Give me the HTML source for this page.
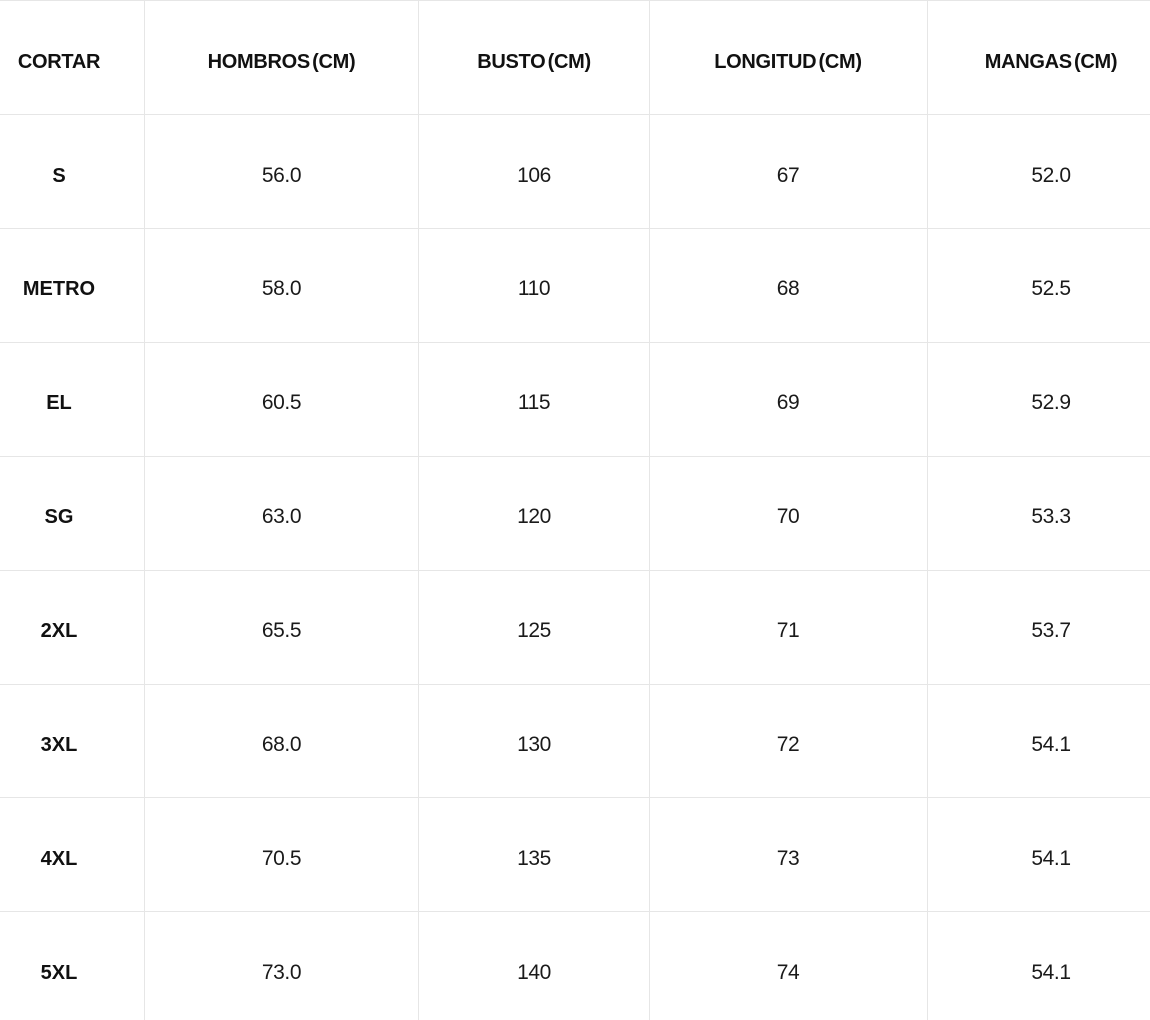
<!DOCTYPE html>
<html>
<head>
<meta charset="utf-8">
<style>
  html, body { margin:0; padding:0; background:#fff; }
  body { width:1150px; height:1020px; position:relative; overflow:hidden;
         font-family:"Liberation Sans", sans-serif; }
  .h { position:absolute; left:0; width:1150px; height:1px; background:#e6e6e6; }
  .v { position:absolute; top:0; width:1px; height:1020px; background:#e6e6e6; }
  .t { position:absolute; height:40px; line-height:40px; text-align:center; white-space:nowrap; }
  .hd { font-weight:bold; font-size:20px; color:#111; letter-spacing:-0.3px; word-spacing:-3px; }
  .b { font-weight:bold; font-size:20px; color:#111; }
  .d { font-size:21px; color:#1a1a1a; letter-spacing:-0.4px; }
  .c1 { left:0; width:118px; }
  .c2 { left:144px; width:275px; }
  .c3 { left:418px; width:232px; }
  .c4 { left:649px; width:278px; }
  .c5 { left:927px; width:248px; }
</style>
</head>
<body>
  <div class="h" style="top:0"></div>
  <div class="h" style="top:114px"></div>
  <div class="h" style="top:228px"></div>
  <div class="h" style="top:342px"></div>
  <div class="h" style="top:456px"></div>
  <div class="h" style="top:570px"></div>
  <div class="h" style="top:684px"></div>
  <div class="h" style="top:797px"></div>
  <div class="h" style="top:911px"></div>

  <div class="v" style="left:144px"></div>
  <div class="v" style="left:418px"></div>
  <div class="v" style="left:649px"></div>
  <div class="v" style="left:927px"></div>

  <!-- header -->
  <div class="t hd c1" style="top:42px">CORTAR</div>
  <div class="t hd c2" style="top:42px">HOMBROS (CM)</div>
  <div class="t hd c3" style="top:42px">BUSTO (CM)</div>
  <div class="t hd c4" style="top:42px">LONGITUD (CM)</div>
  <div class="t hd c5" style="top:42px">MANGAS (CM)</div>

  <!-- rows -->
  <div class="t b c1" style="top:156px">S</div>
  <div class="t d c2" style="top:156px">56.0</div>
  <div class="t d c3" style="top:156px">106</div>
  <div class="t d c4" style="top:156px">67</div>
  <div class="t d c5" style="top:156px">52.0</div>

  <div class="t b c1" style="top:269px">METRO</div>
  <div class="t d c2" style="top:269px">58.0</div>
  <div class="t d c3" style="top:269px">110</div>
  <div class="t d c4" style="top:269px">68</div>
  <div class="t d c5" style="top:269px">52.5</div>

  <div class="t b c1" style="top:383px">EL</div>
  <div class="t d c2" style="top:383px">60.5</div>
  <div class="t d c3" style="top:383px">115</div>
  <div class="t d c4" style="top:383px">69</div>
  <div class="t d c5" style="top:383px">52.9</div>

  <div class="t b c1" style="top:497px">SG</div>
  <div class="t d c2" style="top:497px">63.0</div>
  <div class="t d c3" style="top:497px">120</div>
  <div class="t d c4" style="top:497px">70</div>
  <div class="t d c5" style="top:497px">53.3</div>

  <div class="t b c1" style="top:611px">2XL</div>
  <div class="t d c2" style="top:611px">65.5</div>
  <div class="t d c3" style="top:611px">125</div>
  <div class="t d c4" style="top:611px">71</div>
  <div class="t d c5" style="top:611px">53.7</div>

  <div class="t b c1" style="top:725px">3XL</div>
  <div class="t d c2" style="top:725px">68.0</div>
  <div class="t d c3" style="top:725px">130</div>
  <div class="t d c4" style="top:725px">72</div>
  <div class="t d c5" style="top:725px">54.1</div>

  <div class="t b c1" style="top:839px">4XL</div>
  <div class="t d c2" style="top:839px">70.5</div>
  <div class="t d c3" style="top:839px">135</div>
  <div class="t d c4" style="top:839px">73</div>
  <div class="t d c5" style="top:839px">54.1</div>

  <div class="t b c1" style="top:953px">5XL</div>
  <div class="t d c2" style="top:953px">73.0</div>
  <div class="t d c3" style="top:953px">140</div>
  <div class="t d c4" style="top:953px">74</div>
  <div class="t d c5" style="top:953px">54.1</div>
</body>
</html>
